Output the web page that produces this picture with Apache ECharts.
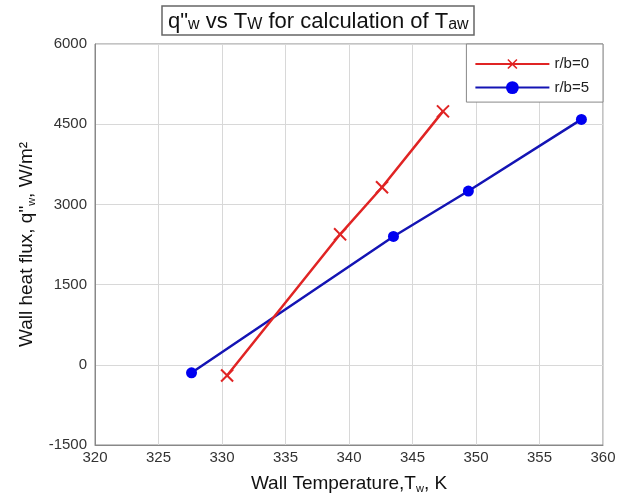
<!DOCTYPE html>
<html>
  <head>
    <meta http-equiv="Content-Type" content="text/html; charset=UTF-8">
    <title>q"w vs Tw</title>
    <style type="text/css">
      body { margin: 0; padding: 0; background-color: white; }
      #main { width: 631px; height: 499px; }
    </style>
  </head>
  <body>
    <div id="main"></div>
    <script type="text/javascript" src="https://cdn.jsdelivr.net/npm/echarts@6/dist/echarts.min.js"></script>
    <script type="text/javascript">
      // data
      var seriesNames = ['r/b=0', 'r/b=5'];
      var tw0 = [330.4, 339.3, 342.6, 347.4];
      var q0 = [-200, 2440, 3320, 4740];
      var tw5 = [327.6, 343.5, 349.4, 358.3];
      var q5 = [-150, 2400, 3250, 4590];
      var xTicks = [320, 325, 330, 335, 340, 345, 350, 355, 360];
      var yTicks = [-1500, 0, 1500, 3000, 4500, 6000];

      function pairs(xs, ys) {
        var out = [];
        for (var i = 0; i < xs.length; i++) out.push([xs[i], ys[i]]);
        return out;
      }

      var font = 'Liberation Sans, Arial, sans-serif';
      var crossPath = 'path://M4.4,0H5.6V4.4H10V5.6H5.6V10H4.4V5.6H0V4.4H4.4Z';

      var myChart = echarts.init(document.getElementById('main'));
      var option = {
        backgroundColor: 'white',
        animation: false,
        title: {
          text: '{n|q"}{s|w}{n| vs T}{s|W}{n| for calculation of T}{s|aw}',
          left: 162,
          top: 3,
          padding: [3, 6, 2, 6],
          borderColor: '#666',
          borderWidth: 1.5,
          textStyle: {
            rich: {
              n: { fontFamily: font, fontSize: 22, fontWeight: 'normal', color: '#111', lineHeight: 27, verticalAlign: 'bottom' },
              s: { fontFamily: font, fontSize: 16, fontWeight: 'normal', color: '#111', lineHeight: 20, verticalAlign: 'bottom', padding: [8, 0, 0, 0] }
            }
          }
        },
        legend: {
          data: seriesNames,
          orient: 'vertical',
          right: 28,
          top: 44,
          itemWidth: 74,
          itemHeight: 16,
          itemGap: 7,
          padding: [11, 14, 7, 8],
          borderColor: '#888',
          borderWidth: 1,
          backgroundColor: 'white',
          textStyle: { fontFamily: font, fontSize: 15, color: '#222' }
        },
        grid: {
          left: 95, right: 28, top: 44, bottom: 51,
          show: true, borderColor: '#888', borderWidth: 1
        },
        xAxis: {
          type: 'value',
          min: xTicks[0],
          max: xTicks[xTicks.length - 1],
          interval: 5,
          name: 'Wall Temperature,T{s|w}, K',
          nameLocation: 'middle',
          nameGap: 28,
          nameTextStyle: {
            fontFamily: font, fontSize: 19, color: '#111',
            rich: { s: { fontFamily: font, fontSize: 11, color: '#111', padding: [10, 0, 0, 0] } }
          },
          axisLine: { show: true, onZero: false, lineStyle: { color: '#888' } },
          axisTick: { show: false },
          axisLabel: { fontFamily: font, fontSize: 15, color: '#333', margin: 5, formatter: function (v) { return String(v); } },
          splitLine: { show: true, lineStyle: { color: '#d8d8d8' } }
        },
        yAxis: {
          type: 'value',
          min: yTicks[0],
          max: yTicks[yTicks.length - 1],
          interval: 1500,
          name: 'Wall heat flux, q"{s|w}, W/m²',
          nameLocation: 'middle',
          nameGap: 56,
          nameTextStyle: {
            fontFamily: font, fontSize: 19, color: '#111',
            rich: { s: { fontFamily: font, fontSize: 11, color: '#111', padding: [10, 0, 0, 0] } }
          },
          axisLine: { show: true, onZero: false, lineStyle: { color: '#888' } },
          axisTick: { show: false },
          axisLabel: { fontFamily: font, fontSize: 15, color: '#333', margin: 8, formatter: function (v) { return String(v); } },
          splitLine: { show: true, lineStyle: { color: '#d8d8d8' } }
        },
        series: [{
          name: seriesNames[0],
          type: 'line',
          data: pairs(tw0, q0),
          symbol: crossPath,
          symbolSize: 17,
          symbolRotate: 45,
          lineStyle: { color: '#e02424', width: 2.5 },
          itemStyle: { color: '#e02424' },
          z: 3
        }, {
          name: seriesNames[1],
          type: 'line',
          data: pairs(tw5, q5),
          symbol: 'circle',
          symbolSize: 11,
          lineStyle: { color: '#1414b4', width: 2.5 },
          itemStyle: { color: '#0000f0' },
          z: 2
        }]
      };
      myChart.setOption(option);
    </script>
  </body>
</html>
